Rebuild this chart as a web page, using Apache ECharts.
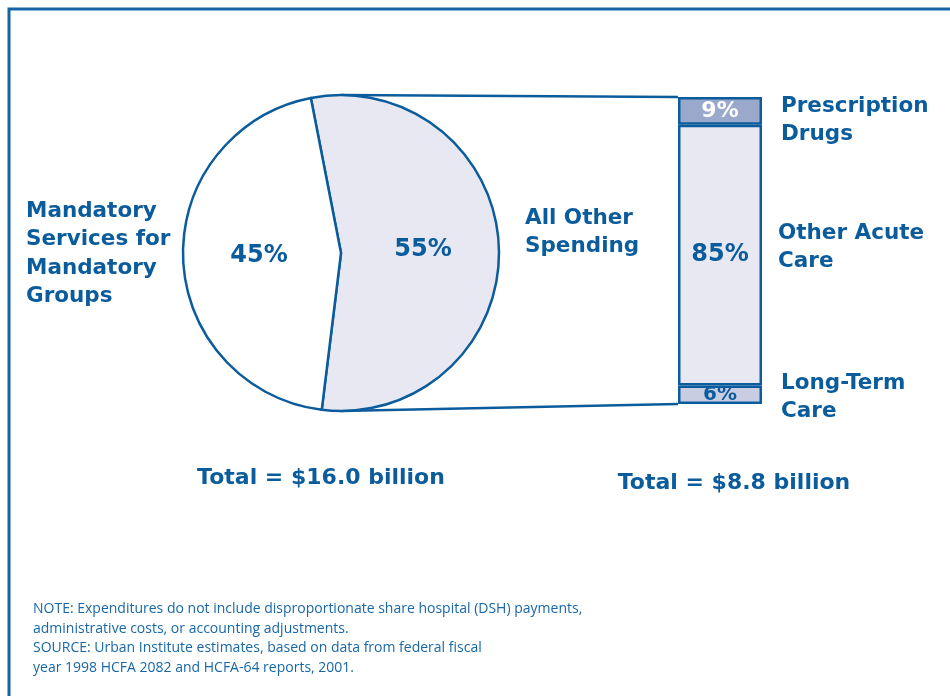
<!DOCTYPE html>
<html>
<head>
<meta charset="utf-8">
<script src="https://cdn.jsdelivr.net/npm/echarts@6/dist/echarts.min.js"></script>
<style>
  html, body { margin: 0; padding: 0; background: #ffffff; }
  #chart { width: 950px; height: 696px; }
</style>
</head>
<body>
<div id="chart"></div>
<script>
// Medicaid spending on optional services for mandatory groups
const pieNames = ['All Other Spending', 'Mandatory Services for Mandatory Groups'];
const pieValues = [55, 45];

const barNames = ['Long-Term Care', 'Other Acute Care', 'Prescription Drugs'];
const barValues = [6, 85, 9];

const pieTotal = 'Total = $16.0 billion';
const barTotal = 'Total = $8.8 billion';
const noteLines = [
  'NOTE: Expenditures do not include disproportionate share hospital (DSH) payments,',
  'administrative costs, or accounting adjustments.',
  'SOURCE: Urban Institute estimates, based on data from federal fiscal',
  'year 1998 HCFA 2082 and HCFA-64 reports, 2001.'
];

const BLUE = '#0b5c9c';
const FONT = '"DejaVu Sans", "Open Sans", sans-serif';
const NOTE_FONT = '"Open Sans", Lato, sans-serif';
const pieCenter = [341, 253];
const pieRadius = 158;
const grid = { left: 678, top: 97, width: 84, height: 307 };

const barFills = ['#c9cde2', '#e8e8f2', '#9aa8cc'];
const barLabelColors = [BLUE, BLUE, '#ffffff'];
const barLabelSizes = [20, 24, 22];

const chart = echarts.init(document.getElementById('chart'), null, { renderer: 'canvas' });

chart.setOption({
  animation: false,
  backgroundColor: '#ffffff',
  grid: { left: grid.left, top: grid.top, width: grid.width, height: grid.height },
  xAxis: { type: 'category', data: ['spending'], show: false },
  yAxis: { type: 'value', min: 0, max: 100, show: false },
  series: [
    {
      type: 'pie',
      center: pieCenter,
      radius: pieRadius,
      startAngle: 101,
      clockwise: true,
      silent: true,
      itemStyle: { borderColor: BLUE, borderWidth: 2.5 },
      label: {
        position: 'inside',
        formatter: '{c}%',
        fontSize: 24,
        fontFamily: FONT,
        fontWeight: 'bold',
        color: BLUE
      },
      labelLine: { show: false },
      data: pieNames.map((n, i) => ({
        name: n,
        value: pieValues[i],
        itemStyle: { color: i === 0 ? '#e8e8f2' : '#ffffff' }
      }))
    },
    ...barNames.map((n, i) => ({
      type: 'bar',
      name: n,
      stack: 'total',
      barWidth: '100%',
      silent: true,
      data: [barValues[i]],
      itemStyle: { color: barFills[i], borderColor: BLUE, borderWidth: 2.5 },
      label: {
        show: true,
        position: 'inside',
        formatter: '{c}%',
        fontSize: barLabelSizes[i],
        fontFamily: FONT,
        fontWeight: 'bold',
        color: barLabelColors[i]
      }
    }))
  ]
});

// connector lines from the pie to the stacked bar, plus frame and text
const topPx = chart.convertToPixel({ yAxisIndex: 0 }, 100);
const botPx = chart.convertToPixel({ yAxisIndex: 0 }, 0);

function textEl(x, y, str, size, opts) {
  return {
    type: 'text',
    x: x, y: y,
    style: Object.assign({
      text: str,
      fontFamily: FONT,
      fontWeight: 'bold',
      fontSize: size,
      fill: BLUE,
      lineHeight: Math.round(size * 1.3)
    }, opts || {})
  };
}

chart.setOption({
  graphic: [
    {
      type: 'polyline',
      shape: { points: [[958, 9], [9, 9], [9, 704]] },
      style: { stroke: '#1565a8', lineWidth: 3, fill: null }
    },
    {
      type: 'line',
      shape: { x1: pieCenter[0], y1: pieCenter[1] - pieRadius, x2: grid.left, y2: topPx },
      style: { stroke: BLUE, lineWidth: 2.5 }
    },
    {
      type: 'line',
      shape: { x1: pieCenter[0], y1: pieCenter[1] + pieRadius, x2: grid.left, y2: botPx },
      style: { stroke: BLUE, lineWidth: 2.5 }
    },
    textEl(26, 197, 'Mandatory\nServices for\nMandatory\nGroups', 21.5, { lineHeight: 28.5 }),
    textEl(525, 204, 'All Other\nSpending', 21.5, { lineHeight: 28 }),
    textEl(781, 92, 'Prescription\nDrugs', 21.5, { lineHeight: 28 }),
    textEl(778, 219, 'Other Acute\nCare', 21.5, { lineHeight: 28.5 }),
    textEl(781, 369, 'Long-Term\nCare', 21.5, { lineHeight: 28.5 }),
    textEl(321, 478, pieTotal, 22, { align: 'center', verticalAlign: 'middle' }),
    textEl(734, 483, barTotal, 22, { align: 'center', verticalAlign: 'middle' }),
    textEl(33, 599, noteLines.join('\n'), 14, {
      fontFamily: NOTE_FONT, fontWeight: 'normal', fill: '#1767a9', lineHeight: 19.8
    })
  ]
});
</script>
</body>
</html>
